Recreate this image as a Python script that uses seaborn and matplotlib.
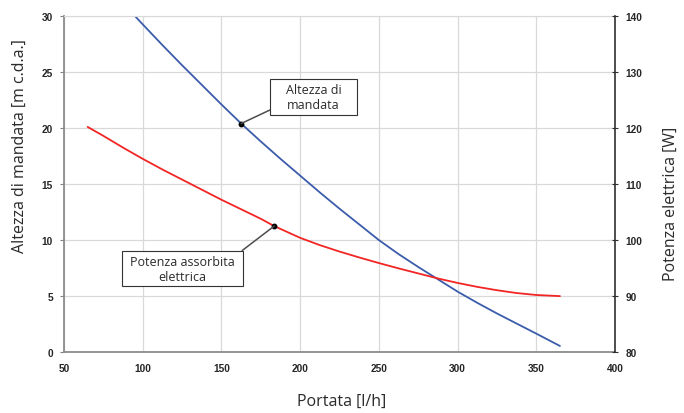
import numpy as np
import pandas as pd
import matplotlib
matplotlib.use("Agg")
import matplotlib.pyplot as plt
from matplotlib.path import Path
import seaborn as sns

# curva prevalenza (asse sinistro, m c.d.a.)
portata_h = [95, 100, 112.5, 125, 137.5, 150, 162.5, 175, 187.5, 200, 212.5, 225, 237.5,
             250, 262.5, 275, 287.5, 300, 312.5, 325, 337.5, 350, 365]
altezza = [30.0, 29.25, 27.4, 25.6, 23.85, 22.1, 20.4, 18.8, 17.25, 15.75, 14.25, 12.8, 11.4,
           10.0, 8.75, 7.6, 6.5, 5.4, 4.4, 3.45, 2.55, 1.65, 0.55]

# curva potenza assorbita (asse destro, W)
portata_p = [65, 75, 87.5, 100, 112.5, 125, 137.5, 150, 162.5, 175, 183.5, 200, 212.5, 225,
             237.5, 250, 262.5, 275, 287.5, 300, 312.5, 325, 337.5, 350, 365]
potenza = [120.2, 118.6, 116.5, 114.5, 112.6, 110.8, 109.0, 107.2, 105.5, 103.8, 102.5, 100.4,
           99.1, 97.95, 96.9, 95.9, 94.95, 94.05, 93.15, 92.35, 91.65, 91.05, 90.55, 90.2, 90.0]

# punti richiamati dalle etichette
punto_altezza = (162.5, 20.4)
punto_potenza = (183.5, 102.5)
testo_altezza = "Altezza di\nmandata"
testo_potenza = "Potenza assorbita\nelettrica"

df_h = pd.DataFrame({"Portata": portata_h, "Altezza": altezza})
df_p = pd.DataFrame({"Portata": portata_p, "Potenza": potenza})

sns.set_style("white")
plt.rcParams["font.family"] = ["Liberation Sans", "DejaVu Sans"]


def box_style(padx, pady):
    # rettangolo con margini diversi in orizzontale e verticale
    def style(x0, y0, width, height, mutation_size):
        px, py = padx * mutation_size, pady * mutation_size
        x1, y1 = x0 - px, y0 - py
        x2, y2 = x0 + width + px, y0 + height + py
        return Path([(x1, y1), (x2, y1), (x2, y2), (x1, y2), (x1, y1)],
                    [Path.MOVETO, Path.LINETO, Path.LINETO, Path.LINETO, Path.CLOSEPOLY])
    return style


fig = plt.figure(figsize=(6.84, 4.14), dpi=100)
ax = fig.add_axes([0.0936, 0.147, 0.8056, 0.812])
ax2 = ax.twinx()

grid_col = "#d9d9d9"
sns.lineplot(data=df_h, x="Portata", y="Altezza", ax=ax, color="#3b5cab", lw=1.3)
sns.lineplot(data=df_p, x="Portata", y="Potenza", ax=ax2, color="#f22525", lw=1.3)

ax.set_xlim(50, 400)
ax.set_ylim(0, 30)
ax2.set_ylim(80, 140)
ax.set_xticks(range(50, 401, 50))
ax.set_yticks(range(0, 31, 5))
ax2.set_yticks(range(80, 141, 10))

ax.grid(True, color=grid_col, lw=0.9)
ax.set_axisbelow(True)

for lab in ax.get_xticklabels() + ax.get_yticklabels() + ax2.get_yticklabels():
    lab.set_fontsize(7.3)
    lab.set_fontweight("bold")
    lab.set_color("#262626")

ax.tick_params(axis="both", direction="out", length=3, width=0.8, color="#808080", pad=5)
ax2.tick_params(axis="y", direction="inout", length=5, width=0.8, color="#303030", pad=5)

for s in ["left", "bottom"]:
    ax.spines[s].set_color("#8c8c8c")
    ax.spines[s].set_linewidth(1.3)
ax.spines["top"].set_color(grid_col)
ax.spines["right"].set_visible(False)
ax2.spines["right"].set_color("#303030")
ax2.spines["right"].set_linewidth(1.2)
for s in ["left", "bottom", "top"]:
    ax2.spines[s].set_visible(False)

lab_font = dict(family=["Open Sans", "DejaVu Sans"], fontsize=11.5, color="#2a2a2a")
ax.set_xlabel("Portata [l/h]", **lab_font)
ax.set_ylabel("Altezza di mandata [m c.d.a.]", **lab_font)
ax2.set_ylabel("Potenza elettrica [W]", **lab_font)
ax.xaxis.set_label_coords(0.5045, -0.12)
ax.yaxis.set_label_coords(-0.066, 0.615)
ax2.yaxis.set_label_coords(1.087, 0.445)

# punti e richiami
ax.plot(*punto_altezza, "o", color="black", ms=3.2, zorder=5)
ax2.plot(*punto_potenza, "o", color="black", ms=3.2, zorder=5)

arrow = dict(arrowstyle="-", color="#4d4d4d", lw=1.1, shrinkA=0, shrinkB=0)
ann_font = dict(fontsize=9, family=["Open Sans", "DejaVu Sans"], color="#2a2a2a",
                ha="center", va="center", multialignment="center")
ax.annotate(testo_altezza, xy=punto_altezza, xytext=(208.5, 22.77),
            bbox=dict(boxstyle=box_style(1.25, 0.3), fc="white", ec="#333333", lw=0.8),
            arrowprops=dict(arrow, relpos=(0, 0.3)), zorder=6, **ann_font)
ax2.annotate(testo_potenza, xy=punto_potenza, xytext=(125.3, 94.9),
             bbox=dict(boxstyle=box_style(0.65, 0.3), fc="white", ec="#333333", lw=0.8),
             arrowprops=dict(arrow, relpos=(1, 0.95)), zorder=6, **ann_font)

fig.savefig("out.png", dpi=100)
